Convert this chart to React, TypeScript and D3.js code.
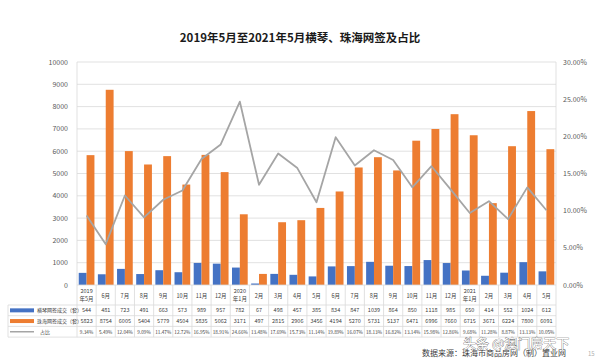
import React from "react";
import * as d3 from "d3";

const categories = ["2019\n年5月","6月","7月","8月","9月","10月","11月","12月","2020\n年1月","2月","3月","4月","5月","6月","7月","8月","9月","10月","11月","12月","2021\n年1月","2月","3月","4月","5月"];
const hengqin = [544,481,723,491,663,573,989,957,782,67,498,457,385,834,847,1039,864,850,1118,985,650,414,552,1024,612];
const zhuhai = [5823,8754,6005,5404,5779,4504,5835,5062,3171,497,2815,2906,3456,4194,5270,5731,5137,6471,6996,7660,6715,3671,6224,7800,6091];
const ratio = [9.34,5.49,12.04,9.09,11.47,12.72,16.95,18.91,24.66,13.48,17.69,15.73,11.14,19.89,16.07,18.13,16.82,13.14,15.98,12.86,9.68,11.28,8.87,13.13,10.05];
const leftTicks = [0,1000,2000,3000,4000,5000,6000,7000,8000,9000,10000];
const rightTicks = [0,5,10,15,20,25,30];
const seriesNames = ["横琴网签成交（套）","珠海网签成交（套）","占比"];

const W = 599, H = 363;
const FONT = "'Noto Sans CJK SC', 'Noto Sans', sans-serif";
const BLUE = "#4472C4", ORANGE = "#ED7D31", GREY = "#A5A5A5";

export default function App() {
  const left = 77, right = 556, top = 62, bottom = 285;
  const x = d3.scaleBand<string>().domain(categories.map((c, i) => String(i))).range([left, right]).paddingInner(0).paddingOuter(0);
  const bw = x.bandwidth();
  const sub = d3.scaleBand<string>().domain(["h", "z"]).range([0, bw]).paddingInner(0).paddingOuter(0.22);
  const yL = d3.scaleLinear().domain([0, 10000]).range([bottom, top]);
  const yR = d3.scaleLinear().domain([0, 30]).range([bottom, top]);
  const line = d3.line<number>().x((_, i) => (x(String(i)) as number) + bw / 2).y((d) => yR(d));

  const rowTop = 305, rowH = 10.7;
  const tableLeft = 8;
  const rows = [hengqin.map(String), zhuhai.map(String), ratio.map((r) => r.toFixed(2) + "%")];
  const textColor = "#404040";

  return (
    <svg width={W} height={H} style={{ position: "absolute", left: 0, top: 0, background: "#fff" }} fontFamily={FONT}>
      <rect width={W} height={H} fill="#fff" />
      <text x={300} y={42} textAnchor="middle" fontSize={11.5} fontWeight="bold" fill="#1a1a1a">2019年5月至2021年5月横琴、珠海网签及占比</text>
      {leftTicks.map((t) => (
        <g key={"l" + t}>
          {t > 0 && <line x1={left} x2={right} y1={yL(t)} y2={yL(t)} stroke="#d9d9d9" strokeWidth={0.8} />}
          <text x={68} y={yL(t) + 2.5} textAnchor="end" fontSize={7} fill="#595959">{t}</text>
        </g>
      ))}
      {rightTicks.map((t) => (
        <text key={"r" + t} x={563} y={yR(t) + 2.5} fontSize={7} fill="#595959">{t.toFixed(2) + "%"}</text>
      ))}
      <line x1={left} x2={left} y1={top} y2={bottom} stroke="#d9d9d9" strokeWidth={0.8} />
      <line x1={right} x2={right} y1={top} y2={bottom} stroke="#d9d9d9" strokeWidth={0.8} />
      {categories.map((c, i) => {
        const x0 = x(String(i)) as number;
        return (
          <g key={"b" + i}>
            <rect x={x0 + (sub("h") as number)} width={sub.bandwidth()} y={yL(hengqin[i])} height={bottom - yL(hengqin[i])} fill={BLUE} />
            <rect x={x0 + (sub("z") as number)} width={sub.bandwidth()} y={yL(zhuhai[i])} height={bottom - yL(zhuhai[i])} fill={ORANGE} />
          </g>
        );
      })}
      <path d={line(ratio) || ""} fill="none" stroke={GREY} strokeWidth={1.8} strokeLinejoin="round" />
      {/* table */}
      <line x1={left} x2={right} y1={bottom} y2={bottom} stroke="#d9d9d9" strokeWidth={0.8} />
      {[0, 1, 2, 3].map((r) => (
        <line key={"h" + r} x1={tableLeft} x2={right} y1={rowTop + r * rowH} y2={rowTop + r * rowH} stroke="#d9d9d9" strokeWidth={0.8} />
      ))}
      <line x1={tableLeft} x2={tableLeft} y1={rowTop} y2={rowTop + 3 * rowH} stroke="#d9d9d9" strokeWidth={0.8} />
      {categories.map((c, i) => {
        const x0 = x(String(i)) as number;
        const parts = c.split("\n");
        return (
          <g key={"t" + i}>
            <line x1={x0 + bw} x2={x0 + bw} y1={bottom} y2={rowTop + 3 * rowH} stroke="#d9d9d9" strokeWidth={0.8} />
            {parts.length === 2 ? (
              <>
                <text x={x0 + bw / 2} y={bottom + 8} textAnchor="middle" fontSize={5.5} fill={textColor}>{parts[0]}</text>
                <text x={x0 + bw / 2} y={bottom + 16} textAnchor="middle" fontSize={5.5} fill={textColor}>{parts[1]}</text>
              </>
            ) : (
              <text x={x0 + bw / 2} y={bottom + 12.5} textAnchor="middle" fontSize={5.5} fill={textColor}>{parts[0]}</text>
            )}
            {rows.map((row, r) => (
              <text key={r} x={x0 + bw / 2} y={rowTop + r * rowH + 7.3} textAnchor="middle" fontSize={r === 2 ? 4.7 : 5.5} fill={textColor}>{row[i]}</text>
            ))}
          </g>
        );
      })}
      <line x1={left} x2={left} y1={bottom} y2={rowTop + 3 * rowH} stroke="#d9d9d9" strokeWidth={0.8} />
      {seriesNames.map((n, r) => {
        const cy = rowTop + r * rowH + rowH / 2;
        return (
          <g key={"lg" + r}>
            {r < 2 ? (
              <rect x={10} y={cy - 2} width={24} height={4} fill={r === 0 ? BLUE : ORANGE} />
            ) : (
              <line x1={10} x2={34} y1={cy} y2={cy} stroke={GREY} strokeWidth={1.5} />
            )}
            <text x={r < 2 ? 37 : 40} y={cy + 2} fontSize={5} fill={textColor}>{n}</text>
          </g>
        );
      })}
      <text x={422} y={356} fontSize={8} fill="#404040">数据来源：珠海市商品房网（制）置业网</text>
      <text x={588} y={356} fontSize={6} fill="#b0b0b0">15</text>
      <text x={463} y={348} fontSize={13} fill="#fff" stroke="#555" strokeWidth={0.6} paintOrder="stroke">头条 @澳门房天下</text>
    </svg>
  );
}
